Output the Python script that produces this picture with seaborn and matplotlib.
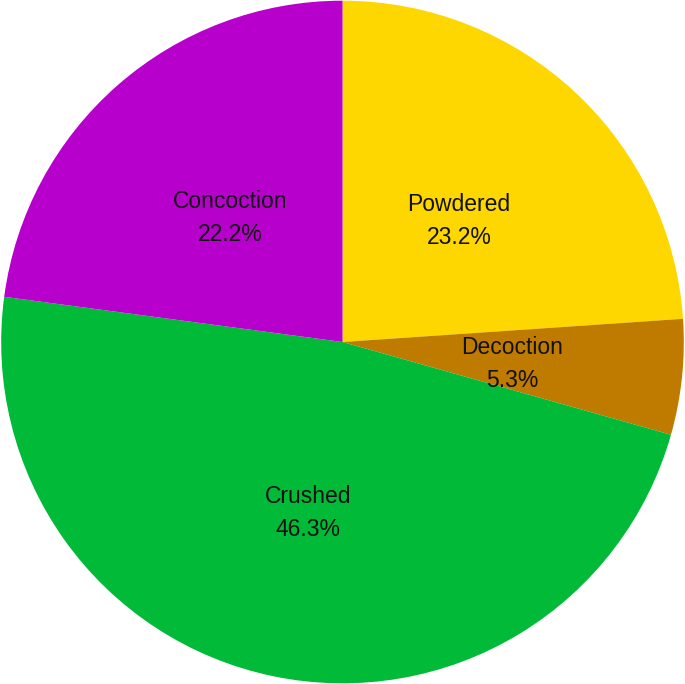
import matplotlib
matplotlib.use("Agg")
import matplotlib.pyplot as plt
import seaborn as sns

sns.set_theme(style="white")
plt.rcParams['font.family'] = ['Liberation Sans', 'DejaVu Sans']

# data (percentages as printed, they sum to 97)
categories = ['Powdered', 'Decoction', 'Crushed', 'Concoction']
shares = [23.2, 5.3, 46.3, 22.2]
colors = ['#FFD700', '#BF7A00', '#00BA38', '#B800CC']

labels = [f'{c}\n{v:.1f}%' for c, v in zip(categories, shares)]

fig = plt.figure(figsize=(6.85, 6.84), dpi=100)
ax = fig.add_axes([0, 0, 1, 1])
wedges, texts = ax.pie(shares, labels=labels, colors=colors, startangle=90,
                       counterclock=False, labeldistance=0.5, radius=1,
                       wedgeprops=dict(linewidth=0, edgecolor='none'),
                       textprops=dict(fontsize=16.5, color='#111111',
                                      ha='center', va='center', linespacing=1.55))
# labels sit a touch lower in the original
for t in texts:
    x, y = t.get_position()
    t.set_position((x, y - 0.012))
ax.set_xlim(-1.002, 1.002)
ax.set_ylim(-1.002, 1.002)
ax.set_aspect('equal')
ax.axis('off')

fig.savefig('out.png', dpi=100, facecolor='white')
